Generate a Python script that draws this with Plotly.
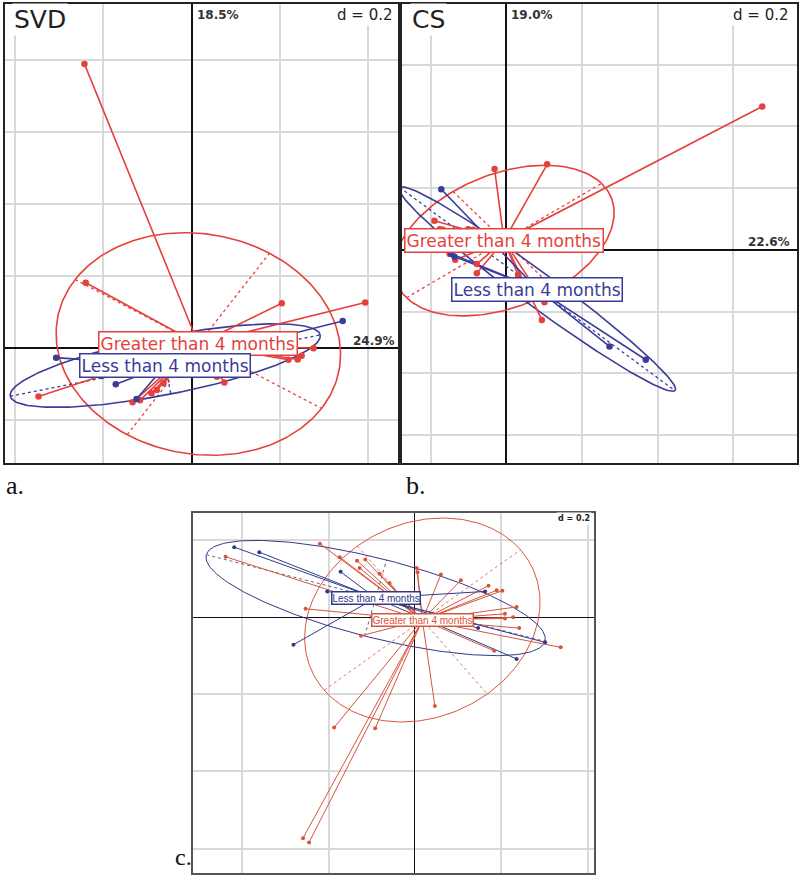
import numpy as np
import plotly.graph_objects as go

W, H = 800, 877

GROUP_NAMES = ["Greater than 4 months", "Less than 4 months"]

# ---- panel a : SVD ----
SVD_GT_X = [-0.243, -0.240, 0.204, 0.393, -0.347, 0.057, 0.074, 0.219, 0.240, 0.249,
            0.276, -0.134, -0.117, -0.091, -0.079, -0.064]
SVD_GT_Y = [0.790, 0.182, 0.125, 0.127, -0.134, -0.079, -0.095, -0.032, -0.031, -0.021,
            0.000, -0.150, -0.144, -0.125, -0.116, -0.097]
SVD_LT_X = [0.342, -0.307, -0.172, -0.125, -0.204]
SVD_LT_Y = [0.076, -0.026, -0.100, -0.141, -0.077]
SVD_CENTROID_X = [0.015, -0.060]
SVD_CENTROID_Y = [0.012, -0.048]
SVD_ELL_AXIS1 = [(0.161, 0.252), (0.351, 0.085)]
SVD_ELL_AXIS2 = [(0.279, -0.179), (0.0127, -0.079)]
SVD_INERTIA = ["24.9%", "18.5%"]

# ---- panel b : CS ----
CS_GT_X = [0.677, 0.108, -0.031, -0.190, -0.176, -0.168, -0.101, -0.088, -0.150, -0.135,
           -0.078, -0.078, 0.031, 0.101, 0.094]
CS_GT_Y = [0.464, 0.277, 0.262, 0.094, 0.067, 0.065, 0.067, 0.065, -0.013, -0.032,
           -0.046, -0.076, -0.081, -0.170, -0.227]
CS_LT_X = [-0.172, -0.146, -0.137, 0.273, 0.369]
CS_LT_Y = [0.196, -0.013, -0.022, -0.313, -0.356]
CS_CENTROID_X = [-0.006, 0.082]
CS_CENTROID_Y = [0.030, -0.127]
CS_ELL_AXIS1 = [(0.258, 0.185), (0.364, -0.329)]
CS_ELL_AXIS2 = [(0.135, -0.159), (0.035, 0.037)]
CS_INERTIA = ["22.6%", "19.0%"]

# ---- panel c ----
C_GT_X = [-0.438, -0.220, -0.174, -0.134, -0.115, -0.128, -0.082, -0.059, -0.253, -0.125,
          0.004, 0.006, 0.060, 0.106, 0.170, 0.189, 0.202, 0.235, 0.208, 0.227,
          0.208, 0.241, 0.183, 0.337, 0.046, -0.187, -0.092, -0.259, -0.245]
C_GT_Y = [0.157, 0.191, 0.156, 0.147, 0.150, 0.128, 0.113, 0.089, 0.022, -0.048,
          0.128, 0.117, 0.111, 0.096, 0.082, 0.070, 0.069, 0.027, 0.009, 0.000,
          -0.003, -0.028, -0.087, -0.078, -0.230, -0.286, -0.288, -0.573, -0.584]
C_LT_X = [-0.418, -0.360, -0.172, -0.203, -0.281, 0.235, 0.301, 0.162, 0.146]
C_LT_Y = [0.182, 0.169, 0.118, 0.067, -0.071, -0.108, -0.065, 0.067, -0.028]
C_CENTROID_X = [0.017, -0.091]
C_CENTROID_Y = [-0.007, 0.050]
C_ELL_AXIS1 = [(0.227, 0.182), (0.3915, -0.1124)]
C_ELL_AXIS2 = [(0.150, -0.192), (0.0254, 0.0986)]


def P(x, y):
    # pixel position -> paper fraction
    return x / W, 1 - y / H


fig = go.Figure()


def draw_panel(xa, ya, pts, cx_list, cy_list, ax1, ax2, colors, lw, ms, fsize, ffam, pad):
    t = np.linspace(0, 2 * np.pi, 241)
    # ellipses + dashed axes
    for g in range(2):
        cx, cy = cx_list[g], cy_list[g]
        (ux, uy), (vx, vy) = ax1[g], ax2[g]
        fig.add_trace(go.Scatter(
            x=cx + ux * np.cos(t) + vx * np.sin(t),
            y=cy + uy * np.cos(t) + vy * np.sin(t),
            mode="lines", line=dict(color=colors[g], width=lw),
            xaxis=xa, yaxis=ya, hoverinfo="skip", showlegend=False))
        fig.add_trace(go.Scatter(
            x=[cx - ux, cx + ux, None, cx - vx, cx + vx],
            y=[cy - uy, cy + uy, None, cy - vy, cy + vy],
            mode="lines", line=dict(color=colors[g], width=lw * 0.8, dash="3px,3px"),
            xaxis=xa, yaxis=ya, hoverinfo="skip", showlegend=False))
    # stars
    for g in range(2):
        cx, cy = cx_list[g], cy_list[g]
        xs, ys = pts[g]
        sx, sy = [], []
        for x, y in zip(xs, ys):
            sx += [cx, x, None]
            sy += [cy, y, None]
        fig.add_trace(go.Scatter(
            x=sx, y=sy, mode="lines", line=dict(color=colors[g], width=lw),
            xaxis=xa, yaxis=ya, hoverinfo="skip", showlegend=False))
    # points
    for g in range(2):
        xs, ys = pts[g]
        fig.add_trace(go.Scatter(
            x=xs, y=ys, mode="markers", marker=dict(color=colors[g], size=ms),
            xaxis=xa, yaxis=ya, hoverinfo="skip", showlegend=False))
    # group labels at centroids
    for g in range(2):
        fig.add_annotation(
            x=cx_list[g], y=cy_list[g], xref=xa, yref=ya,
            text=GROUP_NAMES[g], showarrow=False,
            font=dict(family=ffam, size=fsize, color=colors[g]),
            bgcolor="white", bordercolor=colors[g], borderwidth=1.5, borderpad=pad)


RED_AB, BLUE_AB = "#e5413c", "#3a3c9a"
RED_C, BLUE_C = "#d8553c", "#2e3a88"

draw_panel("x", "y", [(SVD_GT_X, SVD_GT_Y), (SVD_LT_X, SVD_LT_Y)],
           SVD_CENTROID_X, SVD_CENTROID_Y, SVD_ELL_AXIS1, SVD_ELL_AXIS2,
           [RED_AB, BLUE_AB], 1.6, 6.5, 17, "DejaVu Sans", 1)
draw_panel("x2", "y2", [(CS_GT_X, CS_GT_Y), (CS_LT_X, CS_LT_Y)],
           CS_CENTROID_X, CS_CENTROID_Y, CS_ELL_AXIS1, CS_ELL_AXIS2,
           [RED_AB, BLUE_AB], 1.6, 6.5, 17, "DejaVu Sans", 1)
draw_panel("x3", "y3", [(C_GT_X, C_GT_Y), (C_LT_X, C_LT_Y)],
           C_CENTROID_X, C_CENTROID_Y, C_ELL_AXIS1, C_ELL_AXIS2,
           [RED_C, BLUE_C], 1.0, 4, 10, "Liberation Sans", 0)


def axis_style(domain, rng, anchor, grid_w, frame_w, frame_c, zero_w):
    return dict(domain=domain, range=rng, anchor=anchor, tick0=0, dtick=0.2,
                showgrid=True, gridcolor="#d9d9d9", gridwidth=grid_w,
                zeroline=True, zerolinecolor="#111111", zerolinewidth=zero_w,
                showline=True, mirror=True, linecolor=frame_c, linewidth=frame_w,
                showticklabels=False, ticks="", fixedrange=True)


ya_dom = [1 - 463 / H, 1 - 4 / H]
fig.update_layout(
    width=W, height=H, margin=dict(l=0, r=0, t=0, b=0),
    paper_bgcolor="white", plot_bgcolor="white", showlegend=False,
    xaxis=axis_style([5 / W, 397.5 / W], [-0.4229, 0.4661], "y", 2, 2, "#222", 1.6),
    yaxis=axis_style(ya_dom, [-0.3186, 0.9564], "x", 2, 2, "#222", 1.6),
    xaxis2=axis_style([401.5 / W, 797 / W], [-0.2772, 0.7690], "y2", 2, 2, "#222", 1.6),
    yaxis2=axis_style(ya_dom, [-0.6903, 0.7961], "x2", 2, 2, "#222", 1.6),
    xaxis3=axis_style([192.7 / W, 594.3 / W], [-0.5140, 0.4146], "y3", 1.5, 1.5, "#555", 1.2),
    yaxis3=axis_style([1 - 873.3 / H, 1 - 513.3 / H], [-0.6641, 0.2698], "x3", 1.5, 1.5, "#555", 1.2),
)


def text(px, py, s, size, anchor="left", family="DejaVu Sans", color="#222", bg=None):
    x, y = P(px, py)
    fig.add_annotation(x=x, y=y, xref="paper", yref="paper", text=s, showarrow=False,
                       xanchor=anchor, yanchor="middle",
                       font=dict(family=family, size=size, color=color),
                       bgcolor=bg, borderpad=1)


# panel a texts
text(12, 19, "SVD", 25, bg="white")
text(195, 15, "<b>" + SVD_INERTIA[1] + "</b>", 12, color="#333")
text(394, 15, "d = 0.2", 15, anchor="right", bg="white")
text(397, 341, "<b>" + SVD_INERTIA[0] + "</b>", 12, anchor="right", color="#333")
# panel b texts
text(410, 19, "CS", 25, bg="white")
text(509, 15, "<b>" + CS_INERTIA[1] + "</b>", 12, color="#333")
text(790, 15, "d = 0.2", 15, anchor="right", bg="white")
text(792, 242, "<b>" + CS_INERTIA[0] + "</b>", 12, anchor="right", color="#333")
# panel c texts
text(592, 518, "<b>d = 0.2</b>", 8, anchor="right", bg="white")

# panel letters
text(4, 485, "a.", 26, family="Liberation Serif", color="#111")
text(404, 485, "b.", 26, family="Liberation Serif", color="#111")
text(173, 857, "c.", 24, family="Liberation Serif", color="#111")

fig.write_html(
    "out.html",
    config={"displayModeBar": False},
    post_script="document.body.style.margin='0';document.body.style.overflow='hidden';",
)
